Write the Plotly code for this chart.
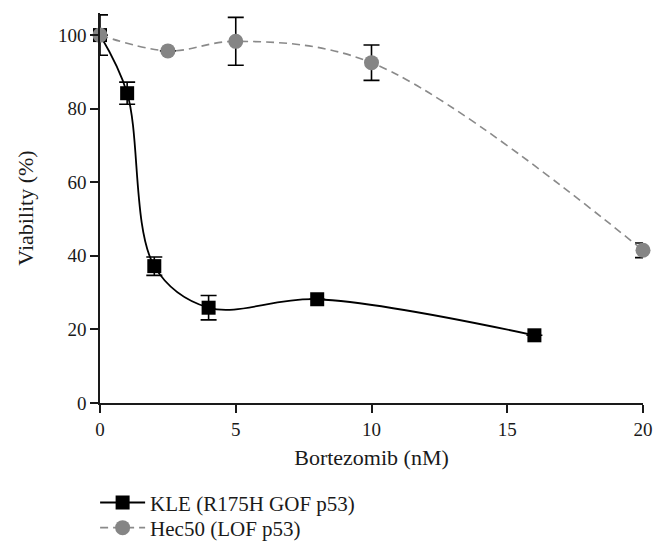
import plotly.graph_objects as go

# Data
kle_dose = [0, 1, 2, 4, 8, 16]
kle_viability = [100, 84.2, 37.2, 25.9, 28.2, 18.4]
kle_error = [5.5, 3.0, 2.5, 3.3, 0, 0]

hec_dose = [0, 2.5, 5, 10, 20]
hec_viability = [100, 95.7, 98.3, 92.5, 41.5]
hec_error = [0, 0, 6.5, 4.8, 2.0]

x_ticks = [0, 5, 10, 15, 20]
y_ticks = [0, 20, 40, 60, 80, 100]

FONT = "Liberation Serif"
TXT = "#1a1a1a"

fig = go.Figure()

fig.add_trace(go.Scatter(
    x=kle_dose, y=kle_viability,
    mode="lines+markers",
    name="KLE (R175H GOF p53)",
    line=dict(color="black", width=1.8, shape="spline", smoothing=1.0),
    marker=dict(symbol="square", size=14, color="black"),
    error_y=dict(type="data", array=kle_error, visible=True,
                 color="black", thickness=1.6, width=8),
    cliponaxis=False,
    legend="legend",
))

fig.add_trace(go.Scatter(
    x=hec_dose, y=hec_viability,
    mode="lines+markers",
    name="Hec50 (LOF p53)",
    line=dict(color="#8a8a8a", width=1.6, dash="8px,5px", shape="spline", smoothing=1.0),
    marker=dict(symbol="circle", size=15, color="#858585"),
    error_y=dict(type="data", array=hec_error, visible=True,
                 color="black", thickness=1.6, width=8),
    cliponaxis=False,
    legend="legend2",
))

common = dict(
    xanchor="left", yanchor="middle",
    bgcolor="rgba(0,0,0,0)",
    itemwidth=45,
    font=dict(family=FONT, size=21, color=TXT),
)

fig.update_layout(
    width=650, height=540,
    margin=dict(l=92, r=15, t=5, b=145, autoexpand=False),
    paper_bgcolor="white", plot_bgcolor="white",
    font=dict(family=FONT, size=19, color=TXT),
    showlegend=True,
    legend=dict(x=-0.009, y=-0.256, **common),
    legend2=dict(x=-0.009, y=-0.3205, **common),
)

fig.update_xaxes(
    range=[0, 20],
    tickvals=x_ticks,
    ticks="outside", ticklen=8, tickwidth=1.6, tickcolor=TXT,
    showline=True, linecolor=TXT, linewidth=1.6,
    showgrid=False, zeroline=False,
    title=dict(text="Bortezomib (nM)", font=dict(family=FONT, size=22), standoff=11),
    tickfont=dict(family=FONT, size=19),
)

fig.update_yaxes(
    range=[0, 106],
    tickvals=y_ticks,
    ticks="outside", ticklen=8, tickwidth=1.6, tickcolor=TXT,
    showline=True, linecolor=TXT, linewidth=1.6,
    showgrid=False, zeroline=False,
    title=dict(text="Viability (%)", font=dict(family=FONT, size=22), standoff=18),
    tickfont=dict(family=FONT, size=19),
)

fig.write_html("out.html")
